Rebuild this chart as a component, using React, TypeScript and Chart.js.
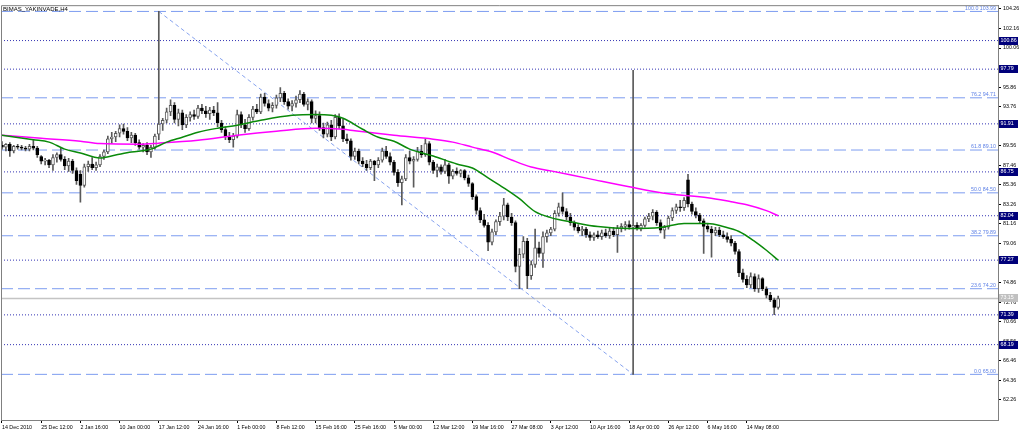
import React, { useEffect, useRef } from 'react';
import { Chart, registerables } from 'chart.js';

Chart.register(...registerables);

const chartTitle = 'BIMAS_YAKINVADE,H4';

const xTickLabels = [
  '14 Dec 2010', '25 Dec 12:00', '2 Jan 16:00', '10 Jan 00:00', '17 Jan 12:00',
  '24 Jan 16:00', '1 Feb 00:00', '8 Feb 12:00', '15 Feb 16:00', '25 Feb 16:00',
  '5 Mar 00:00', '12 Mar 12:00', '19 Mar 16:00', '27 Mar 08:00', '3 Apr 12:00',
  '10 Apr 16:00', '18 Apr 00:00', '26 Apr 12:00', '6 May 16:00', '14 May 08:00',
];
const barsPerXLabel = 10;

const yTickValues = [
  62.26, 64.36, 66.46, 68.56, 70.66, 72.76, 74.86, 76.96, 79.06, 81.16, 83.26,
  85.36, 87.46, 89.56, 91.66, 93.76, 95.86, 97.96, 100.06, 102.16, 104.26,
];

const opens = [
  89.6, 89.4, 89.7, 89.0, 89.5, 89.4, 89.3, 89.2, 89.5, 89.3,
  88.4, 87.9, 88.0, 87.5, 88.3, 88.6, 88.1, 87.4, 87.9, 86.9,
  86.5, 85.3, 87.3, 87.6, 87.2, 87.5, 88.4, 88.9, 90.3, 90.5,
  90.9, 91.4, 91.1, 90.4, 90.7, 89.9, 89.4, 89.6, 88.9, 89.4,
  90.8, 91.9, 92.3, 93.2, 93.9, 92.4, 93.1, 91.8, 92.6, 92.9,
  92.7, 93.6, 93.3, 93.0, 93.4, 93.1, 92.0, 91.3, 90.5, 90.2,
  90.6, 92.9, 91.8, 91.4, 92.6, 93.5, 93.2, 94.8, 94.1, 93.6,
  93.9, 94.7, 95.2, 94.3, 93.8, 94.1, 94.5, 95.1, 94.0, 94.3,
  92.5, 92.8, 91.5, 90.8, 91.8, 90.5, 92.6, 91.7, 90.3, 90.1,
  88.4, 89.0, 87.9, 87.6, 87.2, 87.9, 87.5, 88.0, 89.0, 88.4,
  87.8, 86.7, 85.6, 86.0, 88.3, 87.9, 88.1, 89.0, 88.6, 89.8,
  87.8, 86.9, 87.3, 86.8, 87.5, 86.3, 86.8, 86.6, 86.9, 86.1,
  85.5, 84.1, 82.6, 81.6, 81.0, 79.2, 80.3, 81.4, 82.0, 83.2,
  81.9, 81.3, 76.6, 77.9, 79.3, 75.6, 76.8, 78.6, 78.0, 79.8,
  80.2, 80.6, 82.3, 83.0, 82.5, 81.9, 81.3, 80.8, 80.4, 80.6,
  80.0, 79.7, 80.0, 79.8, 80.2, 79.9, 80.4, 80.0, 80.7, 80.9,
  81.1, 80.8, 81.0, 80.7, 81.0, 81.7, 82.0, 82.4, 81.3, 80.5,
  80.8, 81.8, 82.6, 83.0, 82.9, 85.9, 83.3, 82.5, 82.1, 81.5,
  80.9, 80.6, 80.2, 80.5, 80.0, 79.8, 79.5, 79.1, 78.2, 75.9,
  75.2, 74.6, 75.5, 74.2, 75.3, 74.2, 73.5, 73.0, 72.2,
];

const highs = [
  90.0, 89.8, 89.9, 89.6, 89.7, 89.6, 89.5, 89.7, 90.2, 89.5,
  88.5, 88.2, 88.1, 88.6, 88.8, 89.3, 88.4, 88.2, 88.1, 87.2,
  86.9, 87.6, 87.9, 88.3, 87.8, 88.6, 89.1, 90.6, 91.0, 91.1,
  91.8, 91.9, 91.5, 91.0, 90.9, 90.2, 89.8, 89.9, 89.6, 90.8,
  103.99, 92.5, 93.6, 94.5, 94.2, 93.5, 93.4, 92.9, 93.2, 93.4,
  93.9, 94.0, 93.8, 93.7, 93.8, 94.2, 92.3, 91.6, 91.0, 90.9,
  93.4, 93.2, 92.4, 92.9, 93.8, 94.0, 95.1, 95.2, 94.5, 94.2,
  95.0, 95.8, 95.4, 94.6, 94.4, 94.9, 95.5, 95.3, 94.6, 94.5,
  93.3, 93.2, 92.0, 92.1, 92.3, 92.9, 93.0, 92.4, 90.8, 90.3,
  89.3, 89.2, 88.3, 88.0, 88.1, 88.0, 88.3, 89.3, 89.5, 88.8,
  88.0, 87.0, 86.3, 88.6, 89.0, 88.4, 89.4, 89.6, 90.3, 90.0,
  88.0, 87.6, 87.5, 88.1, 87.7, 87.0, 87.2, 87.0, 87.0, 86.4,
  85.6, 84.3, 82.9, 82.2, 81.3, 80.6, 81.6, 82.4, 83.9, 83.4,
  82.3, 81.5, 78.5, 79.8, 79.6, 77.2, 80.6, 79.2, 80.3, 80.5,
  80.8, 82.6, 83.4, 84.5, 82.8, 82.3, 81.5, 81.1, 80.9, 80.8,
  80.3, 80.2, 80.4, 80.5, 80.6, 80.7, 80.8, 81.0, 81.2, 81.4,
  81.5, 97.65, 81.3, 81.2, 81.9, 82.3, 82.7, 82.6, 81.6, 81.0,
  82.0, 82.9, 83.3, 83.7, 84.0, 86.5, 83.5, 82.9, 82.3, 81.7,
  81.2, 80.9, 80.8, 80.8, 80.4, 80.2, 79.9, 79.3, 78.4, 76.3,
  75.6, 75.9, 75.8, 75.7, 75.4, 74.4, 73.8, 73.2, 73.4,
];

const lows = [
  89.2, 89.0, 88.4, 88.8, 89.2, 89.1, 89.0, 89.0, 89.1, 88.3,
  87.6, 87.5, 87.2, 86.9, 87.8, 87.9, 87.0, 86.8, 86.6, 85.4,
  83.5, 85.1, 86.8, 87.0, 86.9, 87.3, 88.1, 88.7, 89.8, 90.0,
  90.5, 90.8, 90.1, 89.9, 89.6, 89.2, 88.9, 88.6, 88.3, 89.2,
  90.2, 91.2, 92.0, 92.8, 92.0, 91.7, 91.3, 91.5, 92.2, 92.4,
  92.5, 93.0, 92.6, 92.4, 92.8, 91.6, 91.0, 90.2, 89.9, 89.4,
  90.4, 91.5, 91.0, 91.2, 92.3, 93.0, 93.0, 93.8, 93.3, 93.2,
  93.6, 94.3, 94.0, 93.5, 93.3, 93.7, 94.2, 93.8, 93.4, 92.0,
  92.0, 91.2, 90.4, 90.5, 90.1, 90.3, 91.4, 90.0, 89.8, 88.0,
  88.1, 87.6, 87.3, 86.9, 87.0, 85.8, 87.2, 87.8, 88.2, 87.5,
  86.4, 85.2, 83.2, 85.8, 87.6, 85.1, 87.9, 88.3, 88.4, 87.5,
  86.6, 86.2, 86.5, 86.6, 85.5, 86.0, 86.4, 86.2, 85.9, 85.2,
  83.8, 82.2, 81.3, 80.8, 78.3, 78.9, 80.0, 81.0, 81.6, 81.5,
  81.0, 76.0, 74.2, 77.5, 74.2, 75.2, 76.5, 77.6, 76.5, 79.2,
  79.9, 80.4, 82.0, 82.2, 81.6, 81.0, 80.5, 80.2, 79.9, 79.7,
  79.4, 79.4, 79.6, 79.5, 79.7, 79.6, 79.8, 78.1, 80.3, 80.5,
  80.6, 65.0, 80.5, 80.4, 80.8, 81.4, 81.6, 81.0, 80.2, 79.6,
  80.6, 81.5, 82.3, 82.5, 82.6, 83.0, 82.2, 81.8, 81.2, 78.0,
  80.3, 77.6, 79.9, 79.8, 79.6, 79.2, 78.8, 77.9, 75.5, 74.9,
  74.3, 74.3, 73.9, 73.8, 74.0, 73.2, 72.8, 71.4, 72.0,
];

const closes = [
  89.4, 89.7, 89.0, 89.5, 89.4, 89.3, 89.2, 89.5, 89.3, 88.6,
  87.9, 88.0, 87.5, 88.3, 88.6, 88.1, 87.4, 87.9, 86.9, 85.8,
  85.3, 87.3, 87.6, 87.2, 87.5, 88.4, 88.9, 90.3, 90.5, 90.9,
  91.4, 91.1, 90.4, 90.7, 89.9, 89.4, 89.6, 88.9, 89.4, 90.6,
  91.9, 92.3, 93.2, 93.9, 92.4, 93.1, 91.8, 92.6, 92.9, 92.7,
  93.6, 93.3, 93.0, 93.4, 93.1, 92.0, 91.3, 90.5, 90.2, 90.6,
  92.9, 91.8, 91.4, 92.6, 93.5, 93.2, 94.8, 94.1, 93.6, 93.9,
  94.7, 95.2, 94.3, 93.8, 94.1, 94.5, 95.1, 94.0, 94.3, 92.5,
  92.8, 91.5, 90.8, 91.8, 90.5, 92.6, 91.7, 90.3, 90.1, 88.4,
  89.0, 87.9, 87.6, 87.2, 87.9, 87.5, 88.0, 89.0, 88.4, 87.8,
  86.7, 85.6, 86.0, 88.3, 87.9, 88.1, 89.0, 88.6, 89.8, 87.8,
  86.9, 87.3, 86.8, 87.5, 86.3, 86.8, 86.6, 86.9, 86.1, 85.5,
  84.1, 82.6, 81.6, 81.0, 79.2, 80.3, 81.4, 82.0, 83.2, 81.9,
  81.3, 76.6, 77.9, 79.3, 75.6, 76.8, 78.6, 78.0, 79.8, 80.2,
  80.6, 82.3, 83.0, 82.5, 81.9, 81.3, 80.8, 80.4, 80.6, 80.0,
  79.7, 80.0, 79.8, 80.2, 79.9, 80.4, 80.0, 80.7, 80.9, 81.1,
  80.8, 81.0, 80.7, 81.0, 81.7, 82.0, 82.4, 81.3, 80.5, 80.8,
  81.8, 82.6, 83.0, 82.9, 83.7, 83.3, 82.5, 82.1, 81.5, 80.9,
  80.6, 80.2, 80.5, 80.0, 79.8, 79.5, 79.1, 78.2, 75.9, 75.2,
  74.6, 75.5, 74.2, 75.3, 74.2, 73.5, 73.0, 72.2, 73.15,
];

// Slow moving average (magenta), read at sampled bars
const maSlowBars = [0, 10, 20, 25, 35, 40, 50, 60, 70, 80, 87, 90, 100, 110, 115, 120, 125, 130, 135, 140, 150, 160, 170, 180, 186, 190, 195, 198];
const maSlowValues = [90.69, 90.37, 90.05, 89.79, 89.73, 89.84, 90.16, 90.69, 91.12, 91.44, 91.33, 91.17, 90.69, 90.27, 89.95, 89.41, 88.88, 88.03, 87.28, 86.86, 86.0, 85.15, 84.4, 83.98, 83.55, 83.23, 82.59, 82.04];

// Fast moving average (green), read at sampled bars
const maFastBars = [0, 8, 12, 16, 20, 25, 29, 33, 38, 42, 46, 50, 55, 60, 66, 74, 80, 84, 87, 92, 96, 100, 104, 110, 116, 120, 124, 128, 132, 136, 140, 146, 152, 160, 168, 174, 180, 184, 188, 192, 195, 198];
const maFastValues = [90.69, 90.21, 89.95, 89.2, 88.78, 88.24, 88.56, 88.88, 89.2, 89.95, 90.48, 91.01, 91.44, 91.76, 92.29, 92.83, 92.93, 92.83, 92.51, 91.33, 90.48, 90.05, 89.2, 88.46, 87.6, 87.17, 86.11, 85.04, 83.87, 82.48, 81.84, 81.31, 80.88, 80.67, 80.78, 81.2, 81.2, 80.88, 80.35, 79.29, 78.33, 77.27];

const levelLines = [100.86, 97.79, 91.91, 86.75, 82.04, 77.27, 71.39, 68.19];

const fiboRatios = ['0.0', '23.6', '38.2', '50.0', '61.8', '76.2', '100.0'];
const fiboPrices = [65.0, 74.2, 79.89, 84.5, 89.1, 94.71, 103.99];
const fiboTrendBars = [40, 161];
const fiboTrendPrices = [103.99, 65.0];

const bidPrice = 73.15;

const X_MIN = -0.255;
const X_MAX = 254.08;
const Y_MIN = 60.095;
const Y_MAX = 104.662;

const FONT_FAMILY = '"Liberation Sans", Arial, sans-serif';
const AXIS_FONT = 5.3;

const decorPlugin = {
  id: 'mtDecor',
  afterDraw(chart: any) {
    const { ctx, chartArea, scales } = chart;
    const y = scales.y;
    ctx.save();
    // frame left & top
    ctx.strokeStyle = '#808080';
    ctx.lineWidth = 1;
    ctx.beginPath();
    ctx.moveTo(chartArea.left + 0.5, chartArea.bottom);
    ctx.lineTo(chartArea.left + 0.5, chartArea.top + 0.5);
    ctx.lineTo(chartArea.right, chartArea.top + 0.5);
    ctx.stroke();

    // title
    ctx.fillStyle = '#000';
    ctx.font = `6px ${FONT_FAMILY}`;
    ctx.textAlign = 'left';
    ctx.textBaseline = 'top';
    ctx.fillText(chartTitle, chartArea.left + 2, chartArea.top + 1);

    // fibo level texts
    ctx.font = `${AXIS_FONT}px ${FONT_FAMILY}`;
    ctx.fillStyle = '#5f82e6';
    ctx.textAlign = 'right';
    ctx.textBaseline = 'bottom';
    fiboPrices.forEach((p, i) => {
      const py = y.getPixelForValue(p);
      ctx.fillText(`${fiboRatios[i]} ${p.toFixed(2)}`, chartArea.right - 2, py - 0.5);
    });

    // price label boxes on right axis
    ctx.textAlign = 'left';
    ctx.textBaseline = 'middle';
    const boxX = chartArea.right + 1;
    levelLines.forEach((p) => {
      const py = y.getPixelForValue(p);
      ctx.fillStyle = '#00007a';
      ctx.fillRect(boxX, Math.round(py) - 4, 19, 8);
      ctx.fillStyle = '#ffffff';
      ctx.fillText(p.toFixed(2), boxX + 1.5, Math.round(py));
    });
    const by = y.getPixelForValue(bidPrice);
    ctx.fillStyle = '#c0c0c0';
    ctx.fillRect(boxX, Math.round(by) - 4, 19, 8);
    ctx.fillStyle = '#ffffff';
    ctx.fillText(bidPrice.toFixed(2), boxX + 1.5, Math.round(by));
    ctx.restore();
  },
};

export default function App() {
  const ref = useRef<HTMLCanvasElement>(null);

  useEffect(() => {
    const canvas = ref.current;
    if (!canvas) return;

    const hLine = (v: number, color: string, dash: number[], width: number, order: number) => ({
      type: 'line' as const,
      data: [{ x: X_MIN, y: v }, { x: X_MAX, y: v }],
      borderColor: color,
      borderWidth: width,
      borderDash: dash,
      pointRadius: 0,
      fill: false,
      order,
    });

    const datasets: any[] = [
      ...levelLines.map((v) => hLine(v, '#3434b4', [1, 2], 1, 30)),
      ...fiboPrices.map((v) => hLine(v, '#7d9cf0', [12, 5], 1, 30)),
      hLine(bidPrice, '#c4c4c4', [], 1.5, 29),
      {
        type: 'line',
        data: fiboTrendBars.map((b, i) => ({ x: b, y: fiboTrendPrices[i] })),
        borderColor: '#86a2ee',
        borderWidth: 1,
        borderDash: [4, 3],
        pointRadius: 0,
        fill: false,
        order: 28,
      },
      {
        type: 'bar',
        data: highs.map((h, i) => ({ x: i, y: [lows[i], h] })),
        backgroundColor: '#5a5a5a',
        barThickness: 1,
        grouped: false,
        order: 10,
      },
      {
        type: 'bar',
        data: opens.map((o, i) => ({ x: i, y: [o, closes[i]] })),
        backgroundColor: opens.map((o, i) => (closes[i] >= o ? '#ffffff' : '#000000')),
        borderColor: opens.map((o, i) => (closes[i] >= o ? '#5a5a5a' : '#000000')),
        borderWidth: 1,
        borderSkipped: false,
        barThickness: 3,
        minBarLength: 1,
        grouped: false,
        order: 9,
      },
      {
        type: 'line',
        data: maSlowBars.map((b, i) => ({ x: b, y: maSlowValues[i] })),
        borderColor: '#ff00ff',
        borderWidth: 1.5,
        pointRadius: 0,
        tension: 0.4,
        cubicInterpolationMode: 'monotone',
        fill: false,
        order: 2,
      },
      {
        type: 'line',
        data: maFastBars.map((b, i) => ({ x: b, y: maFastValues[i] })),
        borderColor: '#0a8a0a',
        borderWidth: 1.5,
        pointRadius: 0,
        tension: 0.4,
        cubicInterpolationMode: 'monotone',
        fill: false,
        order: 1,
      },
    ];

    const chart = new Chart(canvas, {
      type: 'bar',
      data: { datasets },
      options: {
        animation: false,
        responsive: true,
        maintainAspectRatio: false,
        events: [],
        layout: { padding: { left: 1, top: 2, right: 0, bottom: 0 } },
        plugins: {
          legend: { display: false },
          tooltip: { enabled: false },
          title: { display: false },
        },
        scales: {
          x: {
            type: 'linear',
            offset: false,
            min: X_MIN,
            max: X_MAX,
            afterBuildTicks: (s: any) => {
              s.ticks = xTickLabels.map((_, k) => ({ value: k * barsPerXLabel }));
            },
            afterFit: (s: any) => {
              s.height = 13;
            },
            grid: { offset: false, drawOnChartArea: false, drawTicks: true, tickLength: 3, color: '#000000' },
            border: { display: true, color: '#808080', width: 1 },
            ticks: {
              autoSkip: false,
              maxRotation: 0,
              minRotation: 0,
              align: 'start',
              padding: 1,
              color: '#000000',
              font: { family: FONT_FAMILY, size: AXIS_FONT },
              callback: (v: any) => xTickLabels[Math.round(Number(v) / barsPerXLabel)] ?? '',
            },
          },
          y: {
            type: 'linear',
            position: 'right',
            offset: false,
            min: Y_MIN,
            max: Y_MAX,
            afterBuildTicks: (s: any) => {
              s.ticks = yTickValues.map((v) => ({ value: v }));
            },
            afterFit: (s: any) => {
              s.width = 26;
            },
            grid: { drawOnChartArea: false, drawTicks: true, tickLength: 3, color: '#000000' },
            border: { display: true, color: '#808080', width: 1 },
            ticks: {
              autoSkip: false,
              padding: 2,
              color: '#000000',
              font: { family: FONT_FAMILY, size: AXIS_FONT },
              callback: (v: any) => Number(v).toFixed(2),
            },
          },
        },
      } as any,
      plugins: [decorPlugin],
    });

    return () => chart.destroy();
  }, []);

  return (
    <div style={{ position: 'fixed', left: 0, top: 0, width: 1024, height: 433, background: '#ffffff' }}>
      <canvas ref={ref} />
    </div>
  );
}
